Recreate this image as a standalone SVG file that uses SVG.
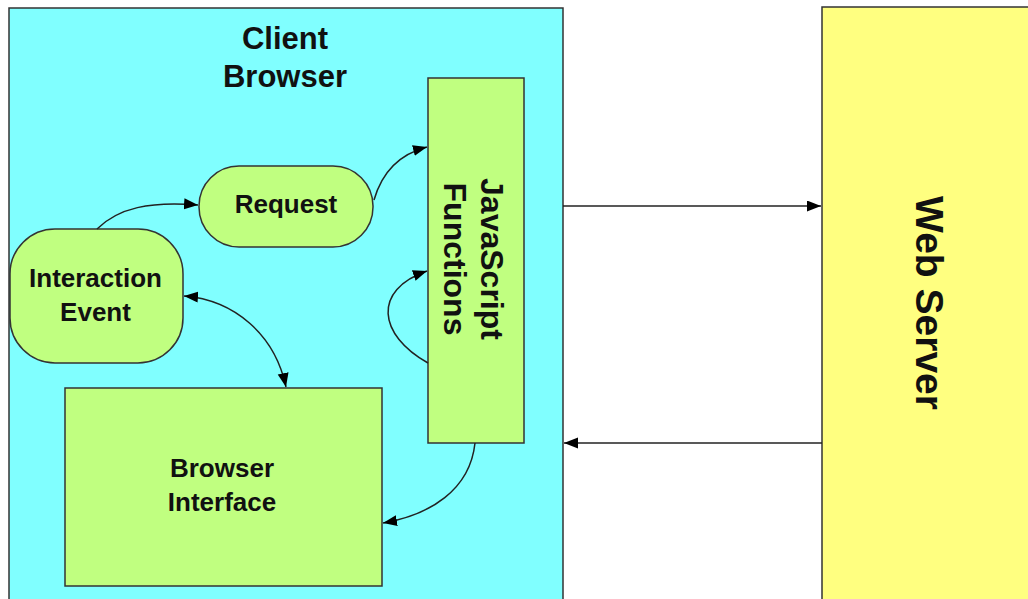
<svg xmlns="http://www.w3.org/2000/svg" width="1028" height="599" viewBox="0 0 1028 599">
<style>
.box{stroke:#333;stroke-width:1.5}
.cyan{fill:#80FFFF}
.green{fill:#C0FF80}
.yellow{fill:#FFFF80}
.t{font-family:"Liberation Sans",Arial,sans-serif;font-weight:bold;fill:#111;text-anchor:middle}
.conn{fill:none;stroke:#222;stroke-width:1.5}
</style>
<defs>
<marker id="ah" markerUnits="userSpaceOnUse" markerWidth="16" markerHeight="12" refX="14" refY="5.5" orient="auto-start-reverse" viewBox="0 0 16 12">
<path d="M0,0 L14,5.5 L0,11 z" fill="#000"/>
</marker>
</defs>
<rect width="1028" height="599" fill="#fff"/>
<g id="client-browser">
<rect class="box cyan" x="9" y="8" width="554" height="610"/>
<text class="t" x="285" y="49" font-size="31">Client</text>
<text class="t" x="285" y="87" font-size="31">Browser</text>
</g>
<g id="web-server">
<rect class="box yellow" x="822" y="7" width="230" height="610"/>
<text class="t" font-size="39" transform="translate(916,303) rotate(90)" x="0" y="0">Web Server</text>
</g>
<g id="javascript-functions">
<rect class="box green" x="428" y="78" width="96" height="365"/>
<text class="t" font-size="32" transform="translate(481,259) rotate(90)" x="0" y="0">JavaScript</text>
<text class="t" font-size="32" transform="translate(444,259) rotate(90)" x="0" y="0">Functions</text>
</g>
<g id="request">
<rect class="box green" x="199" y="166" width="174" height="81" rx="40" ry="40"/>
<text class="t" x="286" y="213" font-size="26">Request</text>
</g>
<g id="interaction-event">
<rect class="box green" x="10" y="229" width="173" height="134" rx="45" ry="45"/>
<text class="t" x="95.5" y="287" font-size="26">Interaction</text>
<text class="t" x="95.5" y="321" font-size="26">Event</text>
</g>
<g id="browser-interface">
<rect class="box green" x="65" y="388" width="317" height="198"/>
<text class="t" x="222" y="477" font-size="26">Browser</text>
<text class="t" x="222" y="511" font-size="26">Interface</text>
</g>
<g id="connectors">
<path class="conn" d="M97,229 C118,208 150,201 198,205" marker-end="url(#ah)"/>
<path class="conn" d="M374,200 C382,172 400,154 427,147" marker-end="url(#ah)"/>
<path class="conn" d="M428,363 C378,335 372,290 427,271" marker-end="url(#ah)"/>
<path class="conn" d="M184,296 C235,300 275,335 286,387" marker-start="url(#ah)" marker-end="url(#ah)"/>
<path class="conn" d="M475,443 C470,490 430,515 383,523" marker-end="url(#ah)"/>
<path class="conn" d="M563,206 L821,206" marker-end="url(#ah)"/>
<path class="conn" d="M822,443 L564,443" marker-end="url(#ah)"/>
</g>
</svg>
